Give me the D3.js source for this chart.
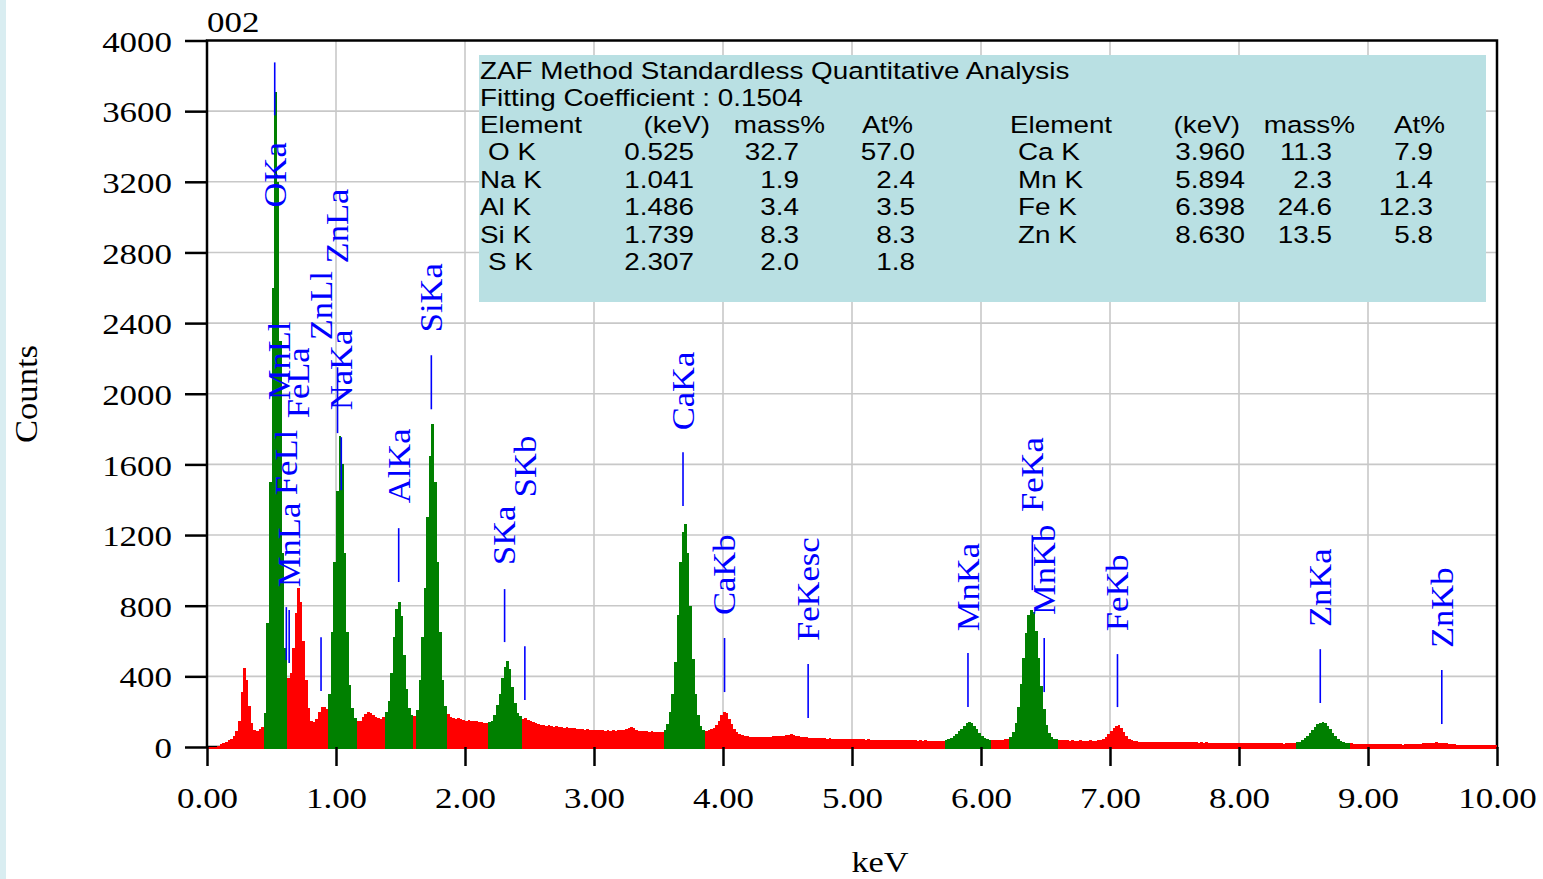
<!DOCTYPE html>
<html><head><meta charset="utf-8">
<script src="https://cdn.jsdelivr.net/npm/d3@7"></script>
<style>html,body{margin:0;padding:0;background:#fff;overflow:hidden}svg{display:block}</style>
</head><body>
<svg id="chart" width="1543" height="879"></svg>
<script>
// ---------------- data ----------------
const sampleName = "002";
const xTitle = "keV";
const yTitle = "Counts";
const binWidth = 0.02; // keV per channel, first channel starts at 0.00 keV
const counts = [
  0, 0, 0, 0, 5, 15, 22, 30, 38, 48,                 // 0.00
  62, 90, 150, 310, 445, 380, 230, 135, 95, 88,      // 0.20
  100, 115, 190, 700, 1500, 2600, 3706, 3200, 2300, 1100, // 0.40
  560, 390, 420, 560, 760, 900, 820, 600, 380, 220,  // 0.60
  150, 140, 160, 200, 225, 228, 215, 300, 650, 1050, // 0.80
  1450, 1760, 1600, 1100, 650, 350, 220, 165, 145, 150, // 1.00
  170, 185, 198, 190, 180, 172, 165, 160, 168, 200,  // 1.20
  260, 420, 620, 780, 820, 740, 520, 330, 220, 180,  // 1.40
  175, 210, 380, 620, 900, 1300, 1650, 1830, 1500, 1050, // 1.60
  650, 380, 230, 185, 170, 165, 160, 165, 160, 155,  // 1.80
  150, 155, 150, 145, 150, 140, 140, 135, 135, 140,  // 2.00
  150, 180, 240, 300, 390, 455, 485, 440, 340, 250,  // 2.20
  195, 175, 160, 165, 155, 145, 140, 135, 130, 125,  // 2.40
  125, 120, 122, 118, 115, 118, 112, 115, 110, 112,  // 2.60
  108, 105, 108, 104, 100, 102, 98, 100, 96, 98,     // 2.80
  95, 97, 94, 96, 92, 95, 93, 96, 92, 95,            // 3.00
  94, 97, 102, 110, 115, 105, 95, 90, 92, 88,        // 3.20
  90, 86, 88, 85, 87, 84, 86, 95, 130, 200,          // 3.40
  300, 480, 750, 1050, 1220, 1265, 1100, 800, 500, 300, // 3.60
  180, 120, 98, 90, 95, 100, 110, 125, 150, 180,     // 3.80
  200, 195, 160, 130, 100, 85, 75, 68, 62, 60,       // 4.00
  58, 57, 58, 55, 56, 54, 55, 56, 58, 60,            // 4.20
  62, 63, 65, 64, 66, 70, 72, 68, 64, 60,            // 4.40
  58, 56, 54, 53, 52, 50, 52, 50, 49, 50,            // 4.60
  48, 49, 47, 48, 46, 47, 45, 46, 45, 44,            // 4.80
  45, 44, 43, 44, 43, 42, 43, 42, 41, 42,            // 5.00
  41, 40, 41, 40, 39, 40, 39, 40, 38, 39,            // 5.20
  38, 37, 38, 37, 38, 36, 37, 36, 37, 36,            // 5.40
  35, 36, 35, 36, 35, 36, 40, 45, 52, 60,            // 5.60
  72, 88, 104, 120, 135, 142, 134, 118, 100, 80,     // 5.80
  62, 50, 43, 40, 38, 40, 38, 41, 42, 44,            // 6.00
  46, 55, 85, 135, 225, 355, 505, 645, 745, 778,     // 6.20
  765, 655, 505, 345, 215, 125, 80, 58, 48, 44,      // 6.40
  42, 40, 38, 37, 36, 38, 36, 35, 37, 35,            // 6.60
  36, 34, 37, 35, 36, 38, 40, 47, 58, 72,            // 6.80
  92, 108, 118, 122, 105, 85, 63, 48, 38, 34,        // 7.00
  32, 31, 30, 31, 30, 29, 30, 29, 30, 28,            // 7.20
  29, 28, 29, 28, 27, 28, 27, 28, 27, 26,            // 7.40
  27, 26, 27, 26, 25, 26, 25, 26, 25, 24,            // 7.60
  25, 24, 25, 24, 23, 24, 23, 24, 23, 22,            // 7.80
  23, 22, 23, 22, 21, 22, 21, 22, 21, 20,            // 8.00
  21, 20, 21, 20, 20, 21, 20, 19, 20, 21,            // 8.20
  21, 22, 26, 31, 40, 50, 63, 78, 95, 112,           // 8.40
  128, 138, 142, 134, 118, 100, 80, 62, 47, 36,      // 8.60
  29, 25, 22, 20, 19, 18, 19, 18, 17, 18,            // 8.80
  17, 16, 17, 16, 17, 16, 15, 16, 15, 16,            // 9.00
  15, 16, 15, 14, 15, 16, 15, 16, 17, 18,            // 9.20
  19, 20, 22, 23, 24, 25, 26, 25, 24, 22,            // 9.40
  20, 18, 16, 15, 14, 14, 13, 14, 13, 12,            // 9.60
  12, 13, 12, 11, 12, 11, 10, 11, 10, 10             // 9.80
];
// peak integration windows (green), keV
const roiStart = [0.44, 0.94, 1.38, 1.62, 2.18, 3.54, 5.72, 6.22, 8.44];
const roiEnd   = [0.62, 1.16, 1.60, 1.86, 2.44, 3.86, 6.08, 6.60, 8.86];

const xTicks = [0, 1, 2, 3, 4, 5, 6, 7, 8, 9, 10];
const yTicks = [0, 400, 800, 1200, 1600, 2000, 2400, 2800, 3200, 3600, 4000];

// peak identification markers: name, line energy (keV), text start level, marker line top / bottom (counts)
const labelNames  = ["OKa","MnLl","FeLl","MnLa","FeLa","ZnLl","ZnLa","NaKa","AlKa","SiKa","SKa","SKb","CaKa","CaKb","FeKesc","MnKa","FeKa","MnKb","FeKb","ZnKa","ZnKb"];
const labelEnergy = [0.525, 0.556, 0.615, 0.637, 0.705, 0.884, 1.012, 1.041, 1.486, 1.739, 2.307, 2.464, 3.690, 4.012, 4.660, 5.899, 6.398, 6.490, 7.058, 8.630, 9.572];
const labelText   = [3055, 1963, 1426, 905, 1861, 2303, 2738, 1907, 1380, 2348, 1030, 1414, 1793, 747, 600, 656, 1330, 747, 656, 679, 560];
const labelLineHi = [3876, null, 792, 775, null, 622, 2150, 1754, 1239, 2218, 894, 571, 1669, 617, 470, 532, 1199, 617, 526, 554, 436];
const labelLineLo = [3576, null, 492, 475, null, 317, 1777, 1454, 934, 1912, 594, 266, 1364, 311, 164, 226, 888, 311, 226, 249, 130];

// quantitative result table
const titleLines = ["ZAF Method Standardless Quantitative Analysis", "Fitting Coefficient : 0.1504"];
const tblHeaders = ["Element", "(keV)", "mass%", "At%"];
const tblElement = ["O K", "Na K", "Al K", "Si K", "S K", "Ca K", "Mn K", "Fe K", "Zn K"];
const tblKeV     = ["0.525", "1.041", "1.486", "1.739", "2.307", "3.960", "5.894", "6.398", "8.630"];
const tblMass    = ["32.7", "1.9", "3.4", "8.3", "2.0", "11.3", "2.3", "24.6", "13.5"];
const tblAt      = ["57.0", "2.4", "3.5", "8.3", "1.8", "7.9", "1.4", "12.3", "5.8"];

// ---------------- drawing ----------------
const svg = d3.select("#chart");
const SX = 1.185;           // horizontal stretch of upright text
const SERIF = "'Liberation Serif','Times New Roman',serif";
const SANS = "'Liberation Sans',Arial,sans-serif";
const x = d3.scaleLinear().domain([0, 10]).range([207, 1497]);
const y = d3.scaleLinear().domain([0, 4000]).range([747, 40.5]);

svg.append("rect").attr("x", 0).attr("y", 0).attr("width", 1543).attr("height", 879).attr("fill", "#fff");
svg.append("rect").attr("x", 0).attr("y", 0).attr("width", 6).attr("height", 879).attr("fill", "#d9edf1");

// grid
const grid = svg.append("g").attr("stroke", "#c8c8c8").attr("stroke-width", 1.6);
grid.selectAll("line.v").data(xTicks.slice(1, -1)).join("line")
  .attr("x1", d => x(d)).attr("x2", d => x(d)).attr("y1", y(4000)).attr("y2", y(0));
grid.selectAll("line.h").data(yTicks.slice(1, -1)).join("line")
  .attr("x1", x(0)).attr("x2", x(10)).attr("y1", d => y(d)).attr("y2", d => y(d));

// frame (drawn beneath spectrum so the fill covers the bottom line)
svg.append("path")
  .attr("d", `M${x(0)},${y(0)}V${y(4000)}H${x(10)}V${y(0)}H${x(0)}`)
  .attr("fill", "none").attr("stroke", "#000").attr("stroke-width", 2.5);

// spectrum
const pts = counts.map((c, i) => ({ e: +(i * binWidth).toFixed(4), c }));
pts.push({ e: 10, c: counts[counts.length - 1] });
const area = d3.area().curve(d3.curveStepAfter)
  .x(d => x(d.e)).y0(y(0) + 1.5).y1(d => y(d.c));
svg.append("path").datum(pts).attr("d", area).attr("fill", "#ff0000").attr("shape-rendering", "crispEdges");
roiStart.forEach((s, k) => {
  const e = roiEnd[k];
  const sub = pts.filter(p => p.e >= s - 1e-6 && p.e < e - 1e-6);
  sub.push({ e: e, c: sub[sub.length - 1].c });
  svg.append("path").datum(sub).attr("d", area).attr("fill", "#008000").attr("shape-rendering", "crispEdges");
});

// axes
const gx = svg.append("g").attr("transform", `translate(0,${y(0)})`)
  .call(d3.axisBottom(x).tickValues(xTicks).tickFormat(d3.format(".2f")).tickSize(19).tickSizeOuter(0));
gx.select(".domain").remove();
gx.selectAll(".tick line").attr("stroke", "#000").attr("stroke-width", 2.5);
gx.selectAll(".tick text").attr("font-family", SERIF).attr("font-size", 29.5).attr("fill", "#000")
  .attr("y", 40).attr("dy", "0.71em").attr("transform", `scale(${SX},1)`);

const gy = svg.append("g").attr("transform", `translate(${x(0)},0)`)
  .call(d3.axisLeft(y).tickValues(yTicks).tickFormat(d3.format("d")).tickSize(22).tickSizeOuter(0));
gy.select(".domain").remove();
gy.selectAll(".tick line").attr("stroke", "#000").attr("stroke-width", 2.5);
gy.selectAll(".tick text").attr("font-family", SERIF).attr("font-size", 29.5).attr("fill", "#000")
  .attr("x", -35 / SX).attr("dy", "0.36em").attr("transform", `scale(${SX},1)`);

// titles
svg.append("text").attr("transform", `translate(207,32) scale(${SX},1)`)
  .attr("font-family", SERIF).attr("font-size", 29.5).attr("fill", "#000").text(sampleName);
svg.append("text").attr("transform", `translate(880,872) scale(${SX},1)`).attr("text-anchor", "middle")
  .attr("font-family", SERIF).attr("font-size", 29).attr("fill", "#000").text(xTitle);
svg.append("text").attr("transform", `translate(26,394) rotate(-90) scale(1.08,1)`).attr("text-anchor", "middle")
  .attr("y", "0.34em").attr("font-family", SERIF).attr("font-size", 32).attr("fill", "#000").text(yTitle);

// peak markers
const mk = svg.append("g");
labelNames.forEach((name, i) => {
  const lx = x(labelEnergy[i]);
  if (labelLineHi[i] !== null) {
    mk.append("line").attr("x1", lx).attr("x2", lx)
      .attr("y1", y(labelLineHi[i])).attr("y2", y(labelLineLo[i]))
      .attr("stroke", "#0000ff").attr("stroke-width", 1.6);
  }
  mk.append("text")
    .attr("transform", `translate(${lx},${y(labelText[i])}) rotate(-90) scale(1.08,1)`)
    .attr("y", "0.34em").attr("font-family", SERIF).attr("font-size", 32).attr("fill", "#0000ff")
    .text(name);
});

// result box
svg.append("rect").attr("x", 479).attr("y", 55).attr("width", 1007).attr("height", 247).attr("fill", "#b9e0e3");
const tb = svg.append("g").attr("font-family", SANS).attr("font-size", 23.5).attr("fill", "#000");
function put(str, px, py, anchor) {
  tb.append("text").attr("transform", `translate(${px},${py}) scale(${SX},1)`)
    .attr("text-anchor", anchor || "start").text(str);
}
put(titleLines[0], 480, 78.5);
put(titleLines[1], 480, 105.5);
const hdrY = 133;
put(tblHeaders[0], 480, hdrY); put(tblHeaders[1], 710, hdrY, "end");
put(tblHeaders[2], 825, hdrY, "end"); put(tblHeaders[3], 913, hdrY, "end");
put(tblHeaders[0], 1010, hdrY); put(tblHeaders[1], 1240, hdrY, "end");
put(tblHeaders[2], 1355, hdrY, "end"); put(tblHeaders[3], 1445, hdrY, "end");
tblElement.forEach((el, i) => {
  const left = i < 5;
  const row = left ? i : i - 5;
  const py = 160 + row * 27.5;
  if (left) {
    put(el, el.length === 3 ? 488 : 480, py);
    put(tblKeV[i], 694, py, "end");
    put(tblMass[i], 799, py, "end");
    put(tblAt[i], 915, py, "end");
  } else {
    put(el, 1018, py);
    put(tblKeV[i], 1245, py, "end");
    put(tblMass[i], 1332, py, "end");
    put(tblAt[i], 1433, py, "end");
  }
});
</script>
</body></html>
